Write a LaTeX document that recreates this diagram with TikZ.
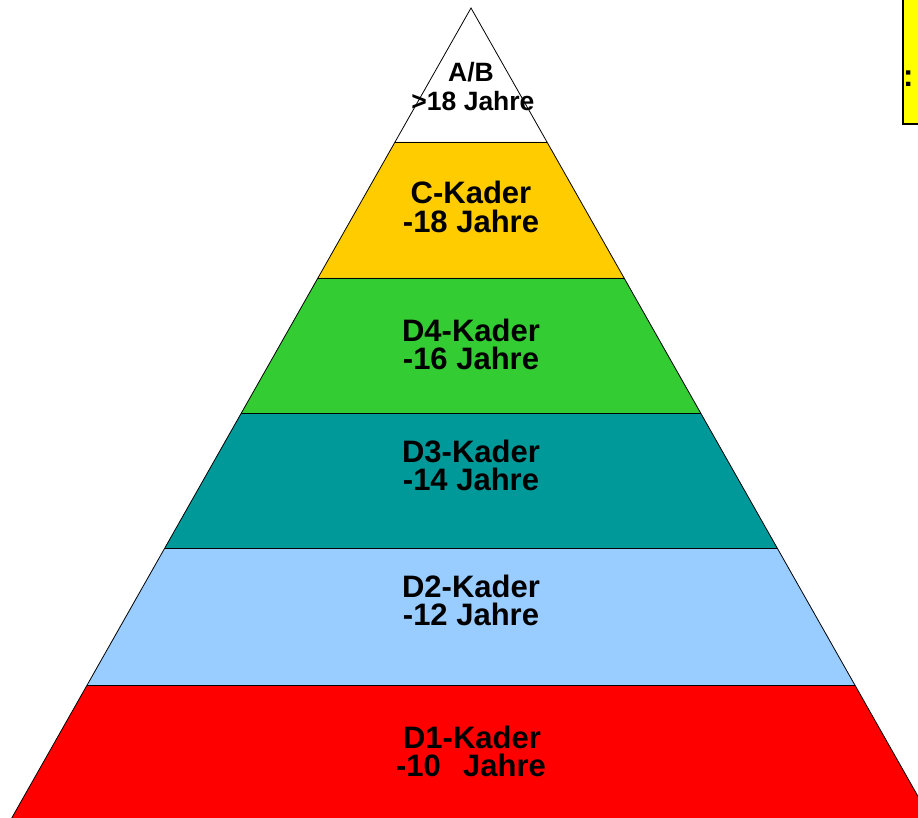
\documentclass[tikz,border=0pt]{standalone}
\usepackage{fontspec}
\setmainfont{Liberation Sans}
\definecolor{cyel}{HTML}{FFCC00}
\definecolor{cgreen}{HTML}{33CC33}
\definecolor{cteal}{HTML}{009999}
\definecolor{cblue}{HTML}{99CCFF}
\definecolor{cred}{HTML}{FF0000}
\definecolor{boxyel}{HTML}{FFFF00}
\begin{document}
\begin{tikzpicture}[x=1pt,y=-1pt,
  band/.style={draw=black,line width=0.8pt,line join=miter},
  lbl/.style={anchor=base,inner sep=0pt,font=\fontsize{31}{31}\selectfont\bfseries},
  toplbl/.style={anchor=base,inner sep=0pt,font=\fontsize{26.5}{26.5}\selectfont\bfseries}]
\useasboundingbox (0,0) rectangle (918,818);
\clip (0,0) rectangle (918,818);
\def\k{0.567}
\def\ax{471}
% bands
\fill[white] (\ax,8) -- ({\ax+\k*134},142) -- ({\ax-\k*134},142) -- cycle;
\fill[cyel] ({\ax-\k*134},142) -- ({\ax+\k*134},142) -- ({\ax+\k*270},278) -- ({\ax-\k*270},278) -- cycle;
\fill[cgreen] ({\ax-\k*270},278) -- ({\ax+\k*270},278) -- ({\ax+\k*405},413) -- ({\ax-\k*405},413) -- cycle;
\fill[cteal] ({\ax-\k*405},413) -- ({\ax+\k*405},413) -- ({\ax+\k*540},548) -- ({\ax-\k*540},548) -- cycle;
\fill[cblue] ({\ax-\k*540},548) -- ({\ax+\k*540},548) -- ({\ax+\k*677},685) -- ({\ax-\k*677},685) -- cycle;
\fill[cred] ({\ax-\k*677},685) -- ({\ax+\k*677},685) -- ({\ax+\k*832},840) -- ({\ax-\k*832},840) -- cycle;
% outlines and separators
\draw[band] ({\ax-\k*832},840) -- (\ax,8) -- ({\ax+\k*832},840);
\foreach \y in {142,278,413,548,685} {
  \draw[band] ({\ax-\k*(\y-8)},\y) -- ({\ax+\k*(\y-8)},\y);
}
% labels
\node[toplbl] (ab1) at (471,82) {A/B};
\node[toplbl] (ab2) at (473,111) {>18 Jahre};
\node[lbl] (c1) at (471,204) {C-Kader};
\node[lbl] (c2) at (471,233) {-18 Jahre};
\node[lbl] (d41) at (471,341) {D4-Kader};
\node[lbl] (d42) at (471,369) {-16 Jahre};
\node[lbl] (d31) at (471,462) {D3-Kader};
\node[lbl] (d32) at (471,490) {-14 Jahre};
\node[lbl] (d21) at (471,597) {D2-Kader};
\node[lbl] (d22) at (471,625) {-12 Jahre};
\node[lbl] (d11) at (472,748) {D1-Kader};
\node[lbl] (d12) at (471,776) {-10\ \ \,Jahre};
% legend box (cut off)
\draw[fill=boxyel,line width=1.5pt] (903,-5) rectangle (935,124);
\node[lbl,anchor=base west] (colon) at (903,87) {:};
\end{tikzpicture}
\end{document}
